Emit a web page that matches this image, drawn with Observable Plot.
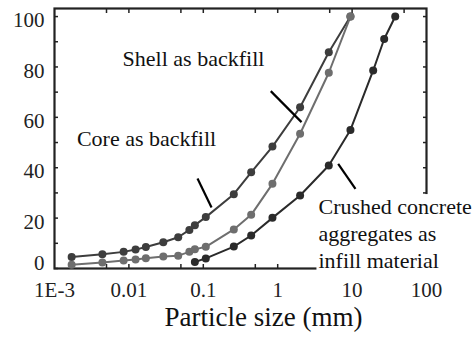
<!DOCTYPE html>
<html><head><meta charset="utf-8">
<script src="https://cdn.jsdelivr.net/npm/d3@7"></script>
<script src="https://cdn.jsdelivr.net/npm/@observablehq/plot@0.6"></script>
<style>body{margin:0;background:#fff}</style>
</head><body><div id="chart"></div>
<script>
// ---- data ----
const sizesFine = [0.0017, 0.0044, 0.0085, 0.0123, 0.0169, 0.029, 0.046, 0.065, 0.077, 0.108, 0.257, 0.44, 0.85, 2.0, 4.86, 9.5];
const shellPassing = [4.6, 5.7, 6.6, 7.5, 8.5, 10.4, 12.4, 15.3, 17.2, 20.4, 29.5, 38.2, 48.4, 64, 85.8, 100];
const corePassing = [1.5, 2.4, 3.2, 3.6, 4.1, 4.8, 5.1, 6.6, 7.6, 8.6, 15.5, 21.3, 33.6, 53.5, 77.7, 100];
const sizesCoarse = [0.077, 0.108, 0.257, 0.44, 0.85, 2.0, 4.86, 9.5, 19.2, 27, 38];
const crushedPassing = [2.6, 4.0, 8.7, 13.1, 20.1, 29, 40.9, 55, 78.6, 91.1, 100];

const xTickValues = [0.001, 0.01, 0.1, 1, 10, 100];
const xTickLabels = ["1E-3", "0.01", "0.1", "1", "10", "100"];
const xMinorTicks = [0.005, 0.01, 0.05, 0.1, 0.5, 1, 5, 10, 50];
const yTickValues = [20, 40, 60, 80, 100];
const yZeroTick = [0];
const yMinorTicks = [0, 10, 20, 30, 40, 50, 60, 70, 80, 90, 100];

const labelText = ["Shell as backfill", "Core as backfill", "Crushed concrete\naggregates as\ninfill material"];
const labelX = [0.0738, 0.01726, 3.53];
const labelY = [83.3, 51.6, 14.3];
const arrowX1 = [0.807, 0.0836, 6.5];
const arrowY1 = [70.4, 35.7, 41.5];
const arrowX2 = [2.09, 0.129, 11.1];
const arrowY2 = [58.1, 24.2, 31.6];
const xLabel = "Particle size (mm)";

// ---- tables ----
const shell = sizesFine.map((x, i) => ({x, y: shellPassing[i]}));
const core = sizesFine.map((x, i) => ({x, y: corePassing[i]}));
const crushed = sizesCoarse.map((x, i) => ({x, y: crushedPassing[i]}));
const labels = labelText.map((t, i) => ({t, x: labelX[i], y: labelY[i]}));
const arrows = arrowX1.map((x1, i) => ({x1, y1: arrowY1[i], x2: arrowX2[i], y2: arrowY2[i]}));

const ink = "#222";
const serif = "Liberation Serif";
const cShell = "#3d3d3d", cCore = "#6e6e6e", cCrushed = "#2a2a2a";

const plot = Plot.plot({
  width: 476, height: 340,
  marginLeft: 54, marginRight: 50, marginTop: 8, marginBottom: 72,
  x: {type: "log", domain: [0.001, 100]},
  y: {domain: [0, 103.2]},
  marks: [
    // inward ticks
    Plot.axisX({anchor: "top", ticks: xMinorTicks, tickSize: 4, dy: 4, tickFormat: () => "", stroke: ink, strokeWidth: 1.5, label: null}),
    Plot.axisX({anchor: "bottom", ticks: xMinorTicks, tickSize: 4, dy: -4, tickFormat: () => "", stroke: ink, strokeWidth: 1.5, label: null}),
    Plot.axisY({anchor: "left", ticks: yMinorTicks, tickSize: 4, dx: 4, tickFormat: () => "", stroke: ink, strokeWidth: 1.5, label: null}),
    Plot.axisY({anchor: "right", ticks: yMinorTicks, tickSize: 4, dx: -4, tickFormat: () => "", stroke: ink, strokeWidth: 1.5, label: null}),
    // tick labels
    Plot.axisX({anchor: "bottom", ticks: xTickValues, tickSize: 0, tickPadding: 14, tickFormat: d => xTickLabels[xTickValues.indexOf(d)], fontSize: 21, fontFamily: serif, fill: ink, label: null}),
    Plot.axisY({anchor: "left", ticks: yTickValues, tickSize: 0, tickPadding: 10, dy: 4, tickFormat: d => String(d), fontSize: 21, fontFamily: serif, fill: ink, label: null}),
    Plot.axisY({anchor: "left", ticks: yZeroTick, tickSize: 0, tickPadding: 10, dy: -5, tickFormat: d => String(d), fontSize: 21, fontFamily: serif, fill: ink, label: null}),
    Plot.frame({stroke: ink, strokeWidth: 2.2}),
    // series
    Plot.line(shell, {x: "x", y: "y", stroke: cShell, strokeWidth: 2}),
    Plot.line(core, {x: "x", y: "y", stroke: cCore, strokeWidth: 2}),
    Plot.line(crushed, {x: "x", y: "y", stroke: cCrushed, strokeWidth: 2}),
    Plot.dot(shell, {x: "x", y: "y", r: 4, fill: cShell, symbol: "circle"}),
    Plot.dot(core, {x: "x", y: "y", r: 4, fill: cCore, symbol: "circle"}),
    Plot.dot(crushed, {x: "x", y: "y", r: 4, fill: cCrushed, symbol: "circle"}),
    // annotation arrows
    Plot.link(arrows, {x1: "x1", y1: "y1", x2: "x2", y2: "y2", stroke: "#000", strokeWidth: 2.2}),
    // labels
    Plot.text(labels.slice(0, 2), {x: "x", y: "y", text: "t", fontSize: 22, fontFamily: serif, fill: "#111"}),
    Plot.text(labels.slice(2), {x: "x", y: "y", text: "t", fontSize: 22, fontFamily: serif, fill: "#111", textAnchor: "start", lineHeight: 1.23}),
    Plot.text([xLabel], {text: d => d, frameAnchor: "bottom", dx: 23, dy: 57, fontSize: 27, fontFamily: serif, fill: "#111"})
  ]
});
plot.setAttribute("font-family", serif);
plot.querySelectorAll("g[font-family]").forEach(g => g.setAttribute("font-family", serif));
document.getElementById("chart").appendChild(plot);

// white box behind the multi-line label (as in the reference, it hides the frame)
const t = Array.from(plot.querySelectorAll("text")).find(e => e.textContent.startsWith("Crushed"));
if (t) {
  const bb = t.getBBox();
  const rect = document.createElementNS("http://www.w3.org/2000/svg", "rect");
  rect.setAttribute("x", bb.x - 2);
  rect.setAttribute("y", bb.y);
  rect.setAttribute("width", bb.width + 4);
  rect.setAttribute("height", bb.height + 4);
  rect.setAttribute("fill", "#fff");
  const tr = t.getAttribute("transform");
  if (tr) rect.setAttribute("transform", tr);
  t.parentNode.insertBefore(rect, t);
}
</script>
</body></html>
